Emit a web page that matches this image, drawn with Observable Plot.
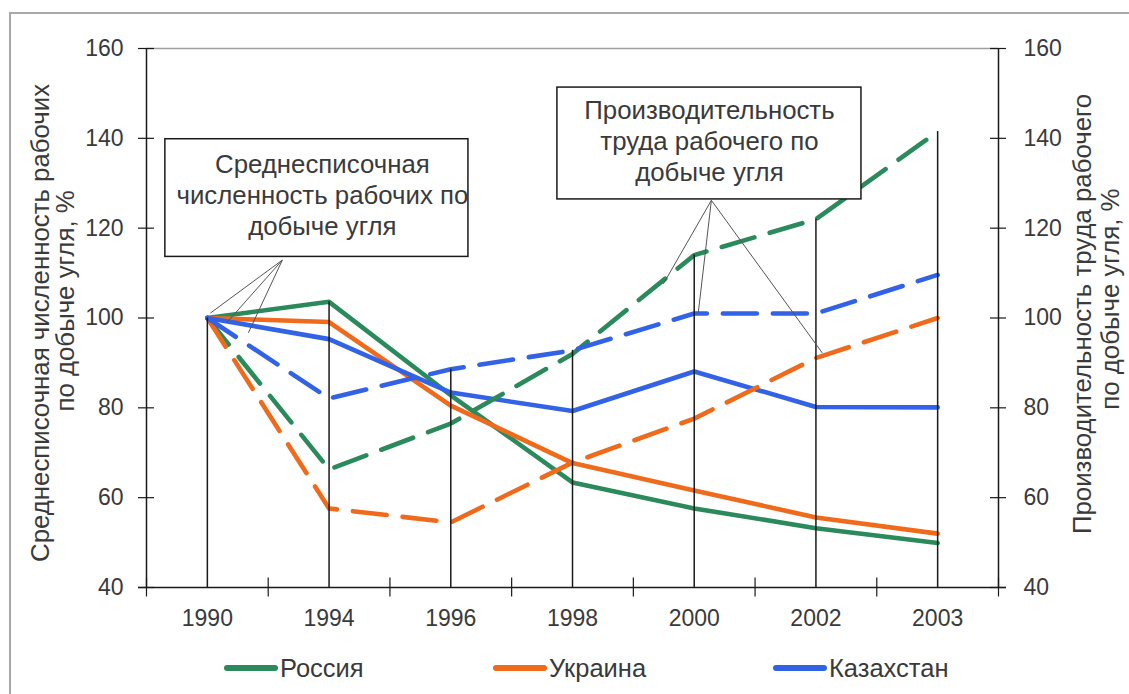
<!DOCTYPE html>
<html>
<head>
<meta charset="utf-8">
<script src="https://cdn.jsdelivr.net/npm/d3@7"></script>
<script src="https://cdn.jsdelivr.net/npm/@observablehq/plot@0.6"></script>
<style>
  body { margin: 0; background: #fff; font-family: "Liberation Sans", Arial, sans-serif; }
  #wrap { position: relative; width: 1129px; height: 694px; overflow: hidden; }
  #frame { position: absolute; left: 9px; top: 12px; width: 1200px; height: 800px;
           border-left: 2px solid #a8a8a8; border-top: 2px solid #a8a8a8; pointer-events: none; }
  #legend { position: absolute; left: 0; top: 640px; width: 1129px; height: 54px; }
  .item { position: absolute; top: 12px; height: 32px; display: flex; align-items: center;
          font-size: 25.5px; color: #3a3a3a; }
  .sw { width: 54px; height: 6px; border-radius: 3px; margin-right: 2px; }
</style>
</head>
<body>
<div id="wrap">
  <div id="chart"></div>
  <div id="legend"></div>
  <div id="frame"></div>
</div>
<script>
// ---- data ----
const years = ["1990", "1994", "1996", "1998", "2000", "2002", "2003"];
const countries = ["Россия", "Украина", "Казахстан"];
const colors = ["#2b8a5b", "#f06a1c", "#3262e6"];

// Среднесписочная численность рабочих (solid)
const russiaWorkers  = [100, 103.6, 82.8, 63.4, 57.6, 53.2, 49.9];
const ukraineWorkers = [100, 99.1, 80.5, 67.7, 61.6, 55.6, 52.0];
const kazakhWorkers  = [100, 95.3, 83.4, 79.3, 88.1, 80.2, 80.1];

// Производительность труда рабочего (dashed)
const russiaProd  = [100, 66.3, 76.5, 92.0, 114.0, 122.0, 141.5];
const ukraineProd = [100, 57.6, 54.5, 67.8, 77.6, 91.1, 100.0];
const kazakhProd  = [100, 82.1, 88.6, 92.8, 101.0, 101.0, 109.6];

const yTicks = [40, 60, 80, 100, 120, 140, 160];

// annotation texts
const boxText1 = "Среднесписочная\nчисленность рабочих по\nдобыче угля";
const boxText2 = "Производительность\nтруда рабочего по\nдобыче угля";
const leftTitle = ["Среднесписочная численность рабочих", "по добыче угля, %"];
const rightTitle = ["Производительность труда рабочего", "по добыче угля, %"];

// annotation geometry (in data units: x = category index, y = %)
const boxes = [
  {x1: -0.345, x2: 2.145, y1: 113.6, y2: 139.8, tx: 0.945, ty: 127.6, text: boxText1},
  {x1: 2.876, x2: 5.374, y1: 126.4, y2: 151.3, tx: 4.125, ty: 139.6, text: boxText2}
];
const leaders = [
  {x1: 0.616, y1: 112.9, x2: 0.025, y2: 101.1},
  {x1: 0.616, y1: 112.9, x2: 0.164, y2: 99.1},
  {x1: 0.616, y1: 112.9, x2: 0.337, y2: 96.7},
  {x1: 4.141, y1: 126.2, x2: 3.747, y2: 107.6},
  {x1: 4.141, y1: 126.2, x2: 4.034, y2: 101.3},
  {x1: 4.141, y1: 126.2, x2: 5.053, y2: 92.2}
];
const titles = [
  {x: -1.372, y: 98.9, text: leftTitle[0]},
  {x: -1.167, y: 103.8, text: leftTitle[1]},
  {x: 7.19, y: 100.9, text: rightTitle[0]},
  {x: 7.42, y: 104.2, text: rightTitle[1]}
];

// ---- tables ----
const workersSeries = [russiaWorkers, ukraineWorkers, kazakhWorkers];
const prodSeries = [russiaProd, ukraineProd, kazakhProd];
const solidRows = [], dashedRows = [];
countries.forEach((c, k) => {
  years.forEach((y, i) => {
    solidRows.push({i, value: workersSeries[k][i], country: c});
    dashedRows.push({i, value: prodSeries[k][i], country: c});
  });
});
const drops = years.map((y, i) => ({
  i, top: d3.max([...workersSeries, ...prodSeries], s => s[i])
}));

const textColor = "#3a3a3a";
const pxPerX = (1129 - 146 - 131) / 7;
const tkX = 8 / pxPerX;   // half-length of y-axis ticks, in x units
const tkY = 2.1;          // half-length of x-axis ticks, in y units
const boundaries = d3.range(-0.5, 7, 1);

const chart = Plot.plot({
  width: 1129,
  height: 640,
  marginLeft: 146,
  marginRight: 131,
  marginTop: 48,
  marginBottom: 53,
  x: {domain: [-0.5, 6.5]},
  y: {domain: [40, 160]},
  color: {domain: countries, range: colors},
  style: {fontFamily: "'Liberation Sans', Arial, sans-serif", background: "transparent", overflow: "visible"},
  marks: [
    Plot.ruleY([160], {stroke: "#a0a0a0", strokeWidth: 1.5}),
    Plot.line(solidRows, {x: "i", y: "value", z: "country", stroke: "country", strokeWidth: 4.6}),
    Plot.line(dashedRows, {x: "i", y: "value", z: "country", stroke: "country", strokeWidth: 4.6, strokeDasharray: "34,16"}),
    Plot.ruleX(drops, {x: "i", y1: 40, y2: "top", stroke: "#1a1a1a", strokeWidth: 1.5}),
    Plot.link(leaders, {x1: "x1", y1: "y1", x2: "x2", y2: "y2", stroke: "#555", strokeWidth: 1}),
    Plot.rect(boxes, {x1: "x1", x2: "x2", y1: "y1", y2: "y2", fill: "white", stroke: "#1a1a1a", strokeWidth: 1.5}),
    Plot.text(boxes, {x: "tx", y: "ty", text: "text", fontSize: 25.8, lineHeight: 1.2, fill: textColor}),
    // axes lines
    Plot.ruleX([-0.5, 6.5], {y1: 40, y2: 160, stroke: "#1a1a1a", strokeWidth: 1.5}),
    Plot.ruleY([40], {x1: -0.5 - tkX, x2: 6.5 + tkX, stroke: "#1a1a1a", strokeWidth: 1.5}),
    Plot.ruleY(yTicks, {y: d => d, x1: -0.5 - tkX, x2: -0.5 + tkX, stroke: "#1a1a1a", strokeWidth: 1.2}),
    Plot.ruleY(yTicks, {y: d => d, x1: 6.5 - tkX, x2: 6.5 + tkX, stroke: "#1a1a1a", strokeWidth: 1.2}),
    Plot.ruleX(boundaries, {x: d => d, y1: 40 - tkY, y2: 40 + tkY, stroke: "#1a1a1a", strokeWidth: 1.2}),
    Plot.axisY(yTicks, {anchor: "left", tickSize: 0, tickPadding: 23, fontSize: 23, fill: textColor, label: null}),
    Plot.axisY(yTicks, {anchor: "right", tickSize: 0, tickPadding: 25, fontSize: 23, fill: textColor, label: null}),
    Plot.axisX(d3.range(years.length), {anchor: "bottom", tickSize: 0, tickPadding: 22, fontSize: 23, fill: textColor, tickFormat: i => years[i], label: null}),
    Plot.text(titles, {x: "x", y: "y", text: "text", rotate: -90, fontSize: 25.8, fill: textColor})
  ]
});
document.getElementById("chart").appendChild(chart);

// legend (HTML, below the SVG)
const legendPos = [224, 493, 773];
const legend = document.getElementById("legend");
countries.forEach((c, k) => {
  const it = document.createElement("div");
  it.className = "item";
  it.style.left = legendPos[k] + "px";
  const sw = document.createElement("span");
  sw.className = "sw";
  sw.style.background = colors[k];
  const tx = document.createElement("span");
  tx.textContent = c;
  it.appendChild(sw); it.appendChild(tx);
  legend.appendChild(it);
});
</script>
</body>
</html>
